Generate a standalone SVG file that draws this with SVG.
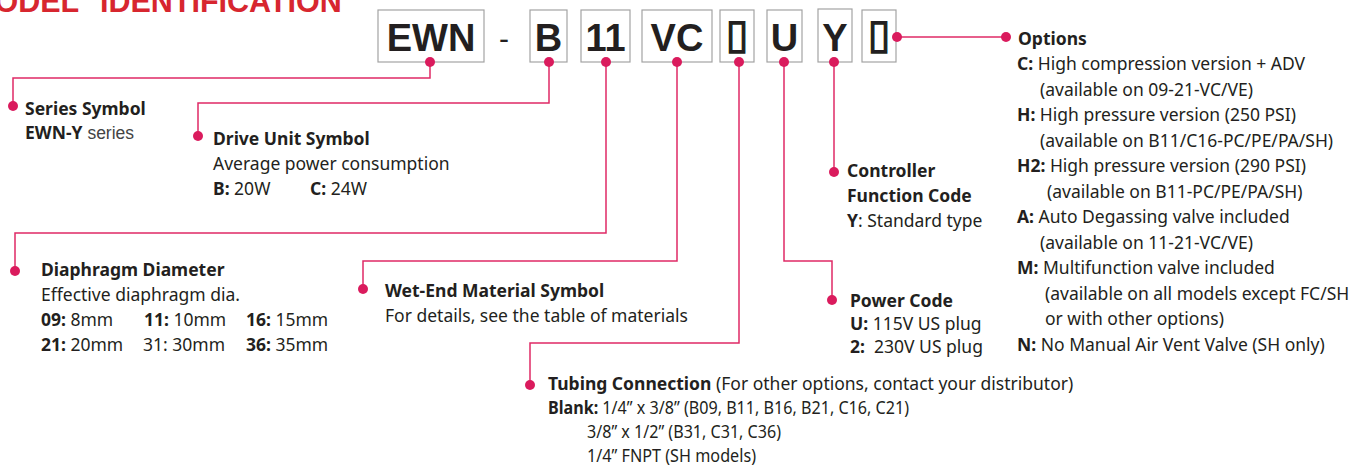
<svg xmlns="http://www.w3.org/2000/svg" width="1354" height="469" viewBox="0 0 1354 469">
<style>
text{font-family:"Noto Sans","Liberation Sans",sans-serif;font-size:17.5px;fill:#231f20}
.b{font-weight:bold}
.title{font-family:"Liberation Sans",Arial,sans-serif;font-weight:bold;font-size:30.5px;fill:#d7262f}
.big{font-family:"Liberation Sans",Arial,sans-serif;font-weight:bold;font-size:38px;fill:#231f20;text-anchor:middle}
.sq{font-family:"DejaVu Sans",sans-serif;font-size:41px;fill:#231f20;stroke:#231f20;stroke-width:1.4;text-anchor:middle}
.box{fill:#fff;stroke:#a3a3a3;stroke-width:1.2}
.ln{fill:none;stroke:#df2a66;stroke-width:1.5}
.dot{fill:#da1b5d}
.lt{font-family:"Liberation Sans",Arial,sans-serif;fill:#444}
</style>
<text class="title" y="12"><tspan x="-31">MODEL</tspan><tspan x="100">IDENTIFICATION</tspan></text>

<g id="code">
<rect class="box" x="378" y="10" width="106" height="52"/>
<text class="big" x="431" y="51">EWN</text>
<text class="big" x="504" y="49" style="font-weight:normal;font-size:30px">-</text>
<rect class="box" x="530" y="10" width="37" height="52"/>
<text class="big" x="548.5" y="51">B</text>
<rect class="box" x="581" y="10" width="49" height="52"/>
<text class="big" x="605.5" y="51">11</text>
<rect class="box" x="642" y="10" width="70" height="52"/>
<text class="big" x="677" y="51">VC</text>
<rect class="box" x="720" y="10" width="34" height="52"/>
<text class="sq" x="737" y="48">▯</text>
<rect class="box" x="767" y="10" width="35" height="52"/>
<text class="big" x="784.5" y="51">U</text>
<rect class="box" x="818" y="9" width="34" height="53"/>
<text class="big" x="835" y="51">Y</text>
<rect class="box" x="862" y="10" width="34" height="52"/>
<text class="sq" x="879" y="48">▯</text>
</g>

<g id="connectors">
<path class="ln" d="M430,62 V78 H13 V106"/>
<path class="ln" d="M549,62 V103 H198 V136"/>
<path class="ln" d="M606,62 V233 H15 V271"/>
<path class="ln" d="M677,62 V261 H363 V289"/>
<path class="ln" d="M739,62 V343 H530 V385"/>
<path class="ln" d="M784,62 V261 H832 V300"/>
<path class="ln" d="M834,62 V172"/>
<path class="ln" d="M897,37 H1006"/>
<circle class="dot" cx="430" cy="62" r="5"/>
<circle class="dot" cx="549" cy="62" r="5"/>
<circle class="dot" cx="606" cy="62" r="5"/>
<circle class="dot" cx="677" cy="62" r="5"/>
<circle class="dot" cx="739" cy="62" r="5"/>
<circle class="dot" cx="784" cy="62" r="5"/>
<circle class="dot" cx="834" cy="62" r="5"/>
<circle class="dot" cx="897" cy="37" r="5"/>
<circle class="dot" cx="13" cy="106" r="5"/>
<circle class="dot" cx="198" cy="136" r="5"/>
<circle class="dot" cx="15" cy="271" r="5"/>
<circle class="dot" cx="363" cy="289" r="5"/>
<circle class="dot" cx="530" cy="385" r="5"/>
<circle class="dot" cx="832" cy="300" r="5"/>
<circle class="dot" cx="834" cy="172" r="5"/>
<circle class="dot" cx="1006" cy="37" r="5"/>
</g>

<g id="series">
<text class="b" x="25" y="115">Series Symbol</text>
<text x="25" y="139"><tspan class="b">EWN-Y</tspan><tspan class="lt"> series</tspan></text>
</g>

<g id="drive">
<text class="b" x="213" y="145">Drive Unit Symbol</text>
<text x="213" y="170">Average power consumption</text>
<text x="213" y="195"><tspan class="b">B:</tspan> 20W</text>
<text x="310" y="195"><tspan class="b">C:</tspan> 24W</text>
</g>

<g id="diaphragm">
<text class="b" x="41" y="276">Diaphragm Diameter</text>
<text x="41" y="301">Effective diaphragm dia.</text>
<text x="41" y="326"><tspan class="b">09:</tspan> 8mm</text>
<text x="144" y="326"><tspan class="b">11:</tspan> 10mm</text>
<text x="246" y="326"><tspan class="b">16:</tspan> 15mm</text>
<text x="41" y="351"><tspan class="b">21:</tspan> 20mm</text>
<text x="143" y="351">31: 30mm</text>
<text x="246" y="351"><tspan class="b">36:</tspan> 35mm</text>
</g>

<g id="wetend">
<text class="b" x="385" y="297">Wet-End Material Symbol</text>
<text x="385" y="322">For details, see the table of materials</text>
</g>

<g id="tubing">
<text x="548" y="390"><tspan class="b">Tubing Connection</tspan> (For other options, contact your distributor)</text>
<text x="548" y="414" textLength="361" lengthAdjust="spacingAndGlyphs"><tspan class="b">Blank:</tspan> 1/4” x 3/8” (B09, B11, B16, B21, C16, C21)</text>
<text x="587" y="438" textLength="194" lengthAdjust="spacingAndGlyphs">3/8” x 1/2” (B31, C31, C36)</text>
<text x="587" y="462" textLength="169" lengthAdjust="spacingAndGlyphs">1/4” FNPT (SH models)</text>
</g>

<g id="controller">
<text class="b" x="847" y="177">Controller</text>
<text class="b" x="847" y="202">Function Code</text>
<text x="847" y="227"><tspan class="b">Y</tspan>: Standard type</text>
</g>

<g id="power">
<text class="b" x="850" y="307">Power Code</text>
<text x="850" y="330"><tspan class="b">U:</tspan> 115V US plug</text>
<text x="850" y="353"><tspan class="b">2:</tspan>&#160; 230V US plug</text>
</g>

<g id="options">
<text class="b" x="1018" y="45">Options</text>
<text x="1017" y="70"><tspan class="b">C:</tspan> High compression version + ADV</text>
<text x="1040" y="96">(available on 09-21-VC/VE)</text>
<text x="1017" y="121"><tspan class="b">H:</tspan> High pressure version (250 PSI)</text>
<text x="1040" y="147">(available on B11/C16-PC/PE/PA/SH)</text>
<text x="1017" y="172"><tspan class="b">H2:</tspan> High pressure version (290 PSI)</text>
<text x="1047" y="198">(available on B11-PC/PE/PA/SH)</text>
<text x="1017" y="223"><tspan class="b">A:</tspan> Auto Degassing valve included</text>
<text x="1040" y="249">(available on 11-21-VC/VE)</text>
<text x="1017" y="274"><tspan class="b">M:</tspan> Multifunction valve included</text>
<text x="1045" y="300">(available on all models except FC/SH</text>
<text x="1045" y="325">or with other options)</text>
<text x="1017" y="351"><tspan class="b">N:</tspan> No Manual Air Vent Valve (SH only)</text>
</g>
</svg>
